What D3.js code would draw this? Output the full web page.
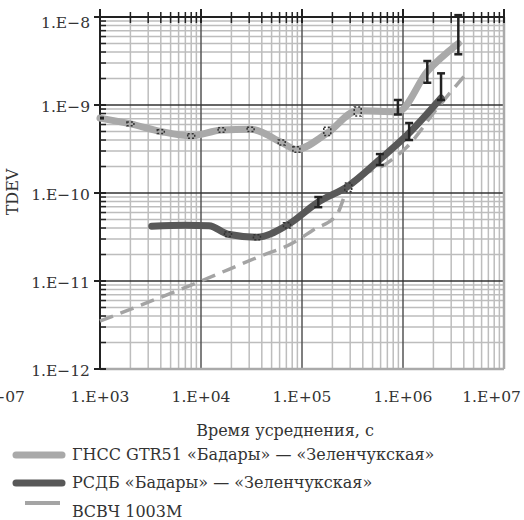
<!DOCTYPE html>
<html>
<head>
<meta charset="utf-8">
<script src="https://cdn.jsdelivr.net/npm/d3@7"></script>
<style>
  body { margin: 0; background: #fff; }
  svg { display: block; }
  text { font-family: "DejaVu Serif", serif; fill: #333; }
</style>
</head>
<body>
<svg id="chart" width="524" height="520"></svg>
<script>
// --- data ---
// ГНСС GTR51: [tau, tdev, lo, hi]
var gnss = [
  [1000, 7.1e-10],
  [2000, 6.1e-10, 5.8e-10, 6.4e-10],
  [4000, 5.0e-10, 4.75e-10, 5.25e-10],
  [8000, 4.45e-10, 4.2e-10, 4.7e-10],
  [16000, 5.2e-10, 4.9e-10, 5.5e-10],
  [31000, 5.3e-10, 5.0e-10, 5.6e-10],
  [63000, 3.75e-10, 3.5e-10, 4.0e-10],
  [88000, 3.13e-10, 2.9e-10, 3.35e-10],
  [178000, 4.8e-10, 4.5e-10, 5.6e-10],
  [356000, 8.6e-10, 7.5e-10, 9.5e-10],
  [890000, 8.4e-10, 7.8e-10, 1.14e-9],
  [1.74e6, 2.4e-9, 1.79e-9, 3.16e-9],
  [3.53e6, 5.0e-9, 3.77e-9, 1.05e-8]
];
// РСДБ
var rsdb = [
  [3250, 4.2e-11],
  [7000, 4.3e-11],
  [12000, 4.25e-11],
  [18500, 3.4e-11, 3.2e-11, 3.6e-11],
  [35800, 3.15e-11, 2.95e-11, 3.35e-11],
  [71000, 4.3e-11, 4.0e-11, 4.6e-11],
  [145000, 7.9e-11, 6.9e-11, 9.0e-11],
  [287000, 1.2e-10, 1.03e-10, 1.3e-10],
  [590000, 2.41e-10, 2.08e-10, 2.77e-10],
  [1.15e6, 4.8e-10, 4.0e-10, 6.24e-10],
  [2.38e6, 1.2e-9, 1.14e-9, 2.29e-9]
];
// ВСВЧ 1003М
var vsvch = [
  [1000, 3.5e-12],
  [10000, 1.0e-11],
  [38000, 1.9e-11],
  [81000, 2.7e-11],
  [129000, 3.8e-11],
  [220000, 5.6e-11],
  [300000, 1.29e-10],
  [690000, 2.17e-10],
  [1.1e6, 3.36e-10],
  [2.17e6, 9.1e-10],
  [4.0e6, 2.1e-9]
];
var xTicks = [1e3, 1e4, 1e5, 1e6, 1e7];
var xTickLabels = ["1.E+03", "1.E+04", "1.E+05", "1.E+06", "1.E+07"];
var yTicks = [1e-12, 1e-11, 1e-10, 1e-9, 1e-8];
var yTickLabels = ["1.E\u221212", "1.E\u221211", "1.E\u221210", "1.E\u22129", "1.E\u22128"];
var legendLabels = ["ГНСС GTR51 «Бадары» — «Зеленчукская»", "РСДБ «Бадары» — «Зеленчукская»", "ВСВЧ 1003М"];

var svg = d3.select("#chart");
var pL = 100, pR = 504, pT = 17, pB = 369;

var x = d3.scaleLog().domain([1e3, 1e7]).range([pL, pR]);
var y = d3.scaleLog().domain([1e-12, 1e-8]).range([pB, pT]);

// minor positions 2..9 in each decade
var xMinor = [], yMinor = [];
for (var d = 3; d < 7; d++) for (var k = 2; k < 10; k++) xMinor.push(k * Math.pow(10, d));
for (var e = -12; e < -8; e++) for (var k2 = 2; k2 < 10; k2++) yMinor.push(k2 * Math.pow(10, e));

var grid = svg.append("g");
grid.selectAll(".vmin").data(xMinor).enter().append("line")
  .attr("x1", d => x(d)).attr("x2", d => x(d)).attr("y1", pT).attr("y2", pB)
  .style("stroke", "#bdbdbd").style("stroke-width", 1.5);
grid.selectAll(".hmin").data(yMinor).enter().append("line")
  .attr("y1", d => y(d)).attr("y2", d => y(d)).attr("x1", pL).attr("x2", pR)
  .style("stroke", "#bdbdbd").style("stroke-width", 1.5);
grid.selectAll(".vmaj").data(xTicks.slice(1, 4)).enter().append("line")
  .attr("x1", d => x(d)).attr("x2", d => x(d)).attr("y1", pT).attr("y2", pB)
  .style("stroke", "#555").style("stroke-width", 1.5);
grid.selectAll(".hmaj").data(yTicks.slice(1, 4)).enter().append("line")
  .attr("y1", d => y(d)).attr("y2", d => y(d)).attr("x1", pL).attr("x2", pR)
  .style("stroke", "#333").style("stroke-width", 1.5);

// frame: gray right/bottom, dark left/top
svg.append("line").attr("x1", pR).attr("x2", pR).attr("y1", pT).attr("y2", pB)
  .style("stroke", "#aaa").style("stroke-width", 2.5);
svg.append("line").attr("x1", pL).attr("x2", pR).attr("y1", pB).attr("y2", pB)
  .style("stroke", "#aaa").style("stroke-width", 2.5);

// top axis with ticks crossing the line
var topAxis = svg.append("g");
topAxis.append("line").attr("x1", pL).attr("x2", pR + 1).attr("y1", pT).attr("y2", pT)
  .style("stroke", "#222").style("stroke-width", 2);
topAxis.selectAll(".tmin").data(xMinor).enter().append("line")
  .attr("x1", d => x(d)).attr("x2", d => x(d)).attr("y1", pT - 5).attr("y2", pT + 6)
  .style("stroke", "#222").style("stroke-width", 1.5);
topAxis.selectAll(".tmaj").data(xTicks).enter().append("line")
  .attr("x1", d => x(d)).attr("x2", d => x(d)).attr("y1", pT - 8).attr("y2", pT + 6)
  .style("stroke", "#222").style("stroke-width", 2);

// left axis
var leftAxis = svg.append("g");
leftAxis.append("line").attr("x1", pL).attr("x2", pL).attr("y1", pT - 8).attr("y2", pB)
  .style("stroke", "#222").style("stroke-width", 2);
leftAxis.selectAll(".lmin").data(yMinor).enter().append("line")
  .attr("y1", d => y(d)).attr("y2", d => y(d)).attr("x1", pL).attr("x2", pL + 6)
  .style("stroke", "#222").style("stroke-width", 1.5);
leftAxis.selectAll(".lmaj").data(yTicks).enter().append("line")
  .attr("y1", d => y(d)).attr("y2", d => y(d)).attr("x1", pL - 6).attr("x2", pL + 6)
  .style("stroke", "#222").style("stroke-width", 2);

svg.selectAll(".ylab").data(yTicks).enter().append("text")
  .attr("x", 90).attr("y", (d) => Math.max(y(d) + 7, 28))
  .attr("text-anchor", "end").style("font-size", "15.5px")
  .text((d, i) => yTickLabels[i]);

svg.selectAll(".xlab").data(xTicks).enter().append("text")
  .attr("x", (d, i) => i == xTicks.length - 1 ? 521 : x(d))
  .attr("y", 402)
  .attr("text-anchor", (d, i) => i == xTicks.length - 1 ? "end" : "middle")
  .style("font-size", "15.5px")
  .text((d, i) => xTickLabels[i]);
// clipped label at the far left, as in the source
svg.append("text").attr("x", 25).attr("y", 402).attr("text-anchor", "end")
  .style("font-size", "15.5px").text(xTickLabels[4]);

svg.append("text").attr("transform", "translate(18,192) rotate(-90)")
  .attr("text-anchor", "middle").style("font-size", "16px").text("TDEV");
svg.append("text").attr("x", 285).attr("y", 436).attr("text-anchor", "middle")
  .style("font-size", "16px").text("Время усреднения, с");

// --- series ---
var line = d3.line().x(d => x(d[0])).y(d => y(d[1])).curve(d3.curveMonotoneX);

svg.append("path").datum(vsvch).attr("d", line)
  .style("fill", "none").style("stroke", "#a4a4a4").style("stroke-width", 3.5)
  .style("stroke-dasharray", "14,8");

svg.append("path").datum(gnss).attr("d", line)
  .style("fill", "none").style("stroke", "#a9a9a9").style("stroke-width", 7)
  .style("stroke-linecap", "round");

svg.append("path").datum(rsdb).attr("d", line)
  .style("fill", "none").style("stroke", "#585858").style("stroke-width", 7)
  .style("stroke-linecap", "round");

// start tick of the ГНСС curve
svg.append("line").attr("x1", x(gnss[0][0])).attr("x2", x(gnss[0][0]) + 4)
  .attr("y1", y(gnss[0][1])).attr("y2", y(gnss[0][1]))
  .style("stroke", "#222").style("stroke-width", 3);

function errorBars(data, small) {
  var pts = data.filter(d => d.length > 2);
  var g = svg.append("g");
  pts.forEach(function(d) {
    var cx = x(d[0]), y1 = y(d[3]), y2 = y(d[2]);
    if (y2 - y1 < small) {
      // tiny bars drawn as dashed open markers
      g.append("rect").attr("x", cx - 3.5).attr("y", y1).attr("width", 7).attr("height", y2 - y1)
        .style("fill", "none").style("stroke", "#333").style("stroke-width", 1.5)
        .style("stroke-dasharray", "2,2");
    } else {
      g.append("line").attr("x1", cx).attr("x2", cx).attr("y1", y1).attr("y2", y2)
        .style("stroke", "#222").style("stroke-width", 2.5);
      [y1, y2].forEach(function(yy) {
        g.append("line").attr("x1", cx - 4).attr("x2", cx + 4).attr("y1", yy).attr("y2", yy)
          .style("stroke", "#222").style("stroke-width", 2.5);
      });
    }
  });
}
errorBars(gnss, 12);
errorBars(rsdb, 9);

// --- legend ---
var lg = svg.append("g");
lg.append("line").attr("x1", 16).attr("x2", 62).attr("y1", 455).attr("y2", 455)
  .style("stroke", "#a9a9a9").style("stroke-width", 7).style("stroke-linecap", "round");
lg.append("line").attr("x1", 16).attr("x2", 62).attr("y1", 483).attr("y2", 483)
  .style("stroke", "#585858").style("stroke-width", 7).style("stroke-linecap", "round");
lg.append("line").attr("x1", 25).attr("x2", 60).attr("y1", 503).attr("y2", 503)
  .style("stroke", "#a4a4a4").style("stroke-width", 4);
var ly = [460, 488, 517];
lg.selectAll(".ltxt").data(legendLabels).enter().append("text")
  .attr("x", 72).attr("y", (d, i) => ly[i])
  .style("font-size", "16px").text(d => d);
</script>
</body>
</html>
